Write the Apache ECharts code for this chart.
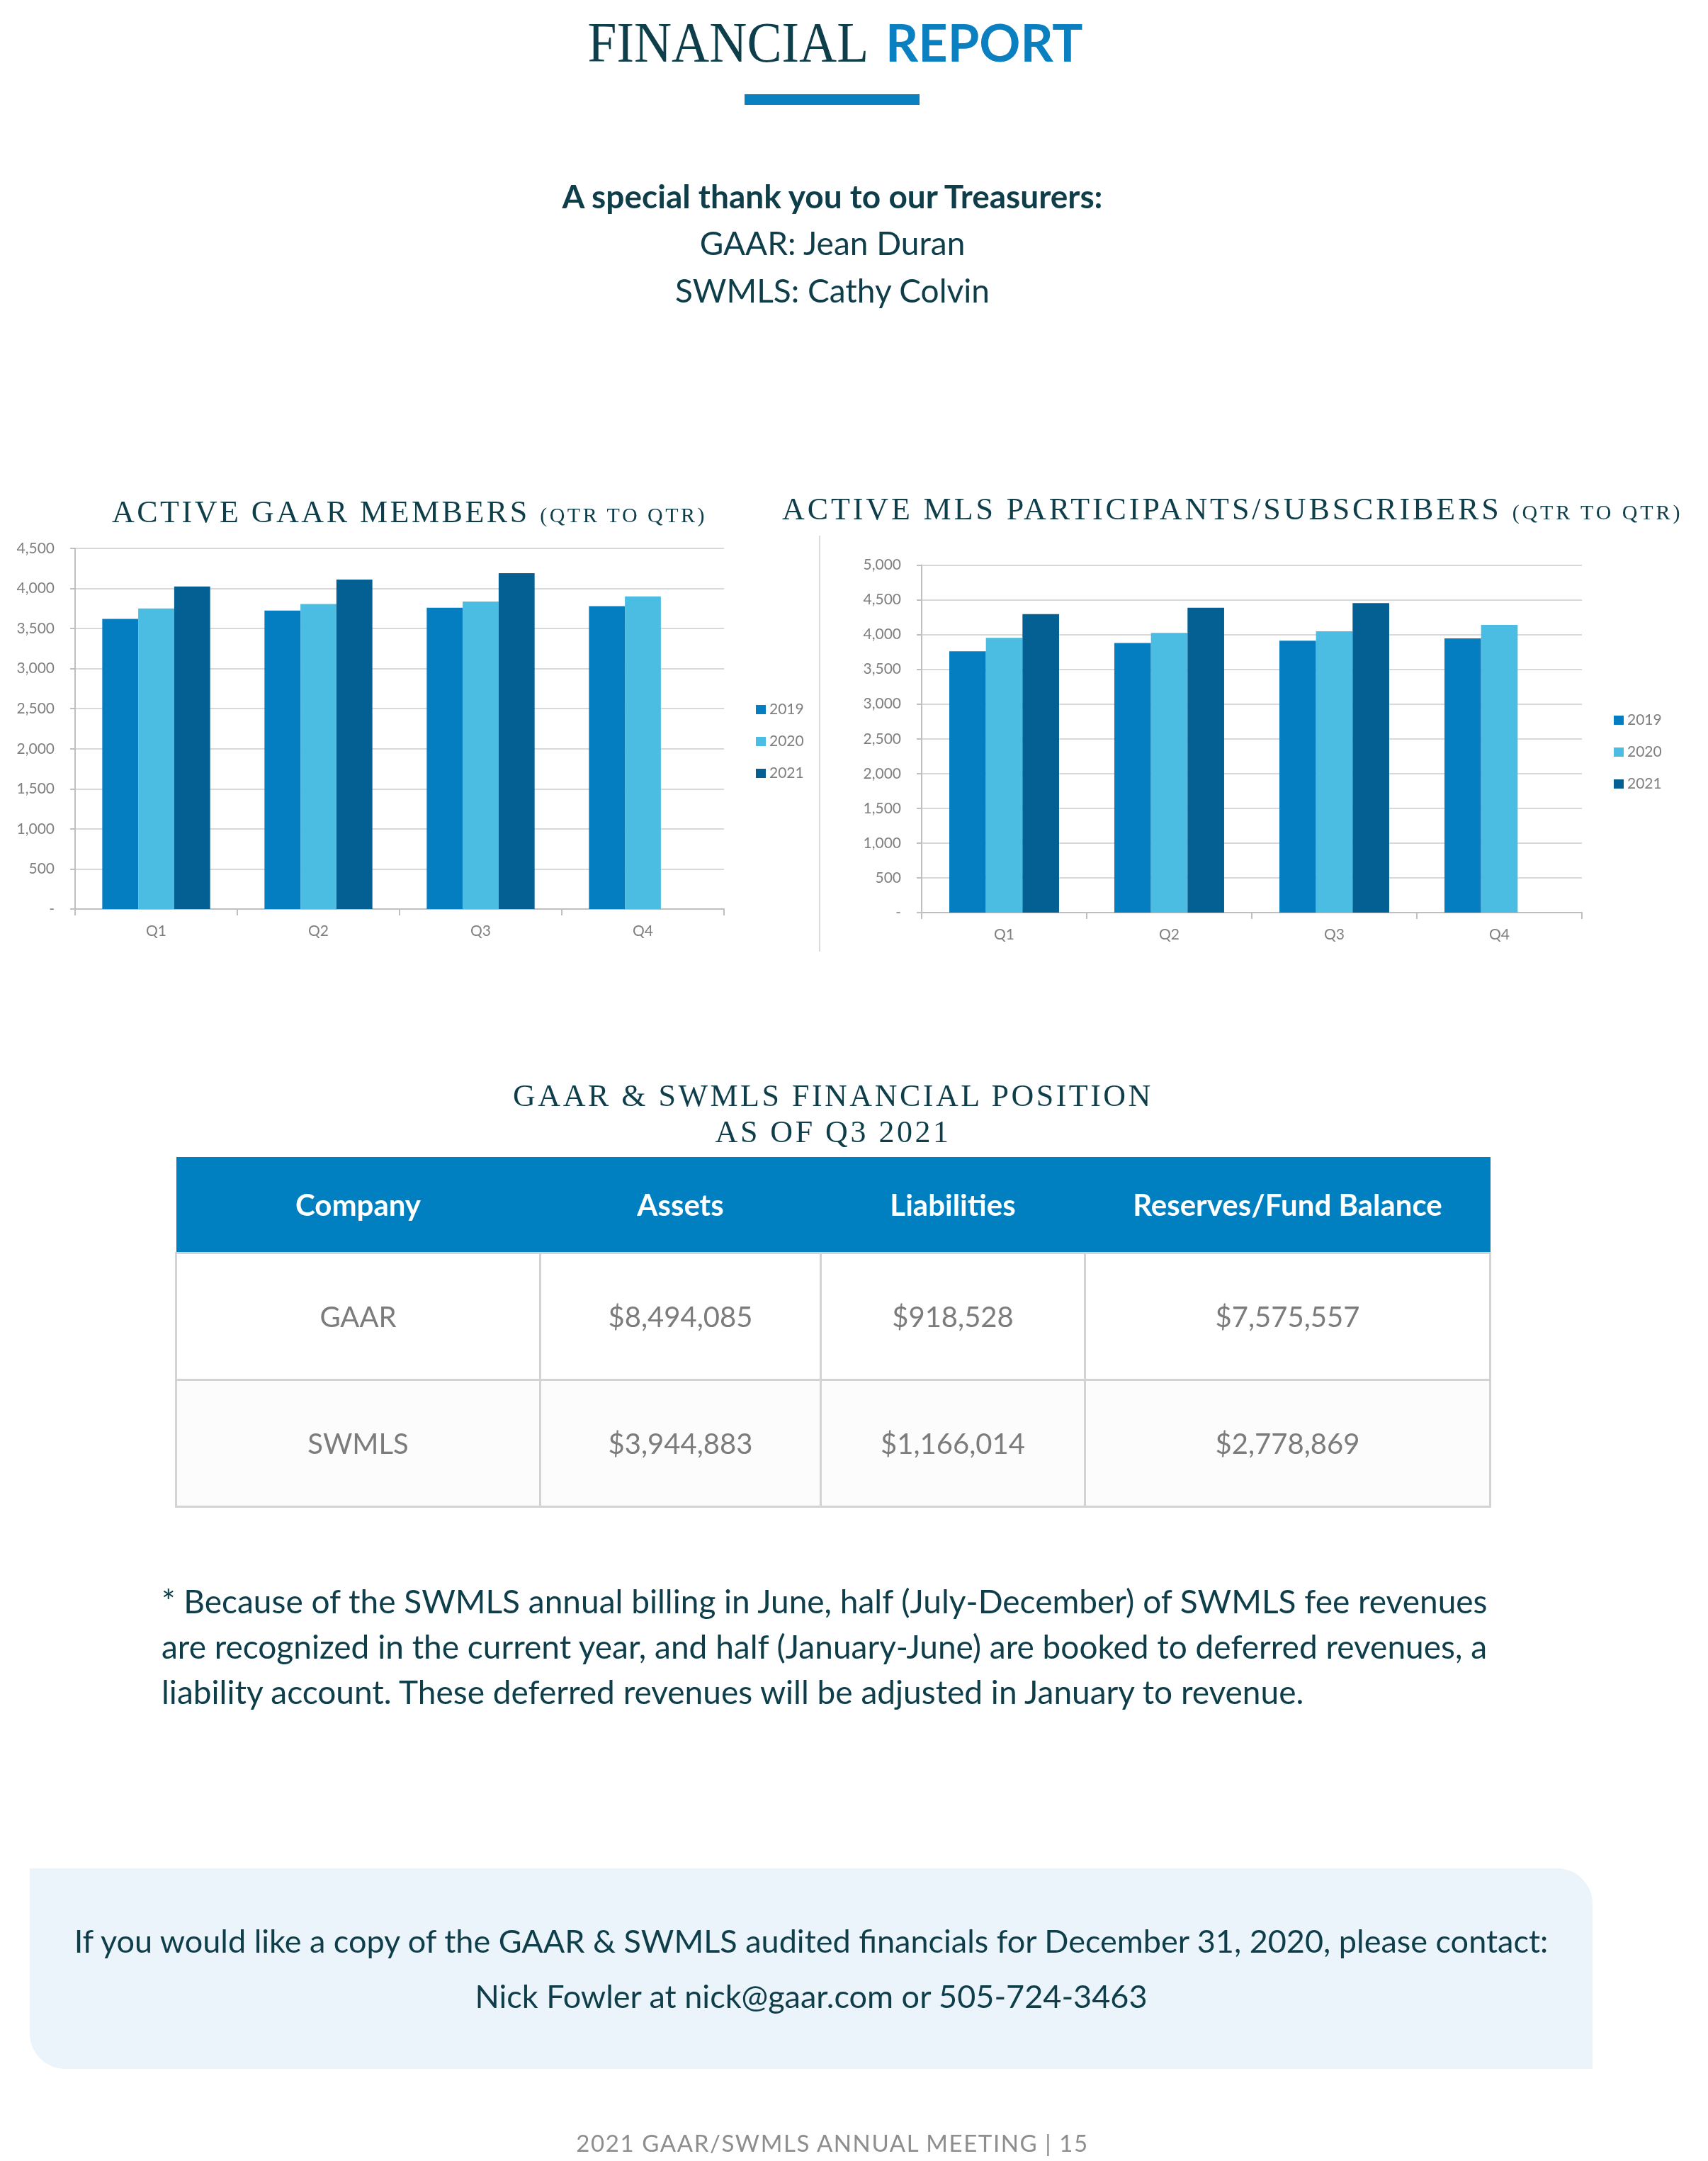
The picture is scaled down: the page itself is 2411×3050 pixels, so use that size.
<!DOCTYPE html>
<html>
<head>
<meta charset="utf-8">
<script src="https://cdn.jsdelivr.net/npm/echarts@6/dist/echarts.min.js"></script>
<style>
  html, body { margin:0; padding:0; background:#ffffff; }
  body { width:2411px; height:3050px; position:relative; overflow:hidden; }
  #chart { position:absolute; left:0; top:0; width:2411px; height:3050px; z-index:0; }
  .t { position:absolute; white-space:nowrap; z-index:1; line-height:1; }
  .lato { font-family: Lato, "Open Sans", sans-serif; }
  .serif { font-family: "Liberation Serif", "DejaVu Serif", serif; }
  .teal { color:#0f3e4b; }
  table.fin { position:absolute; left:247px; top:1633px; width:1855px; border-collapse:collapse; table-layout:fixed; z-index:1;
    font-family: Lato, "Open Sans", sans-serif; }
  table.fin th { background:#0080c0; color:#ffffff; font-weight:700; font-size:42px; height:134px; padding:0; border:none; text-align:center; }
  table.fin td { color:#7c7c7c; font-weight:400; font-size:40px; height:176px; padding:0; border:3px solid #d3d3d3; text-align:center; }
  table.fin tr.r2 td { background:#fcfcfc; height:176px; }
</style>
</head>
<body>
<div id="chart"></div>

<!-- Page header -->
<div class="t serif teal" style="right:1185px; top:20px; font-size:80px; transform:scaleX(0.92); transform-origin:right center;">FINANCIAL</div>
<div class="t lato" style="left:1250px; top:23px; font-size:72px; font-weight:700; color:#0a80c0;">REPORT</div>
<div style="position:absolute; left:1051px; top:133px; width:247px; height:15px; background:#0a80c0;"></div>

<div class="t lato teal" style="left:575px; width:1200px; text-align:center; top:254px; font-size:46px; font-weight:700;">A special thank you to our Treasurers:</div>
<div class="t lato teal" style="left:575px; width:1200px; text-align:center; top:320px; font-size:46px;">GAAR: Jean Duran</div>
<div class="t lato teal" style="left:575px; width:1200px; text-align:center; top:387px; font-size:46px;">SWMLS: Cathy Colvin</div>

<!-- Chart titles -->
<div class="t serif teal" style="left:158px; top:701px; font-size:44px; letter-spacing:3.5px;">ACTIVE GAAR MEMBERS <span style="font-size:30px;">(QTR TO QTR)</span></div>
<div class="t serif teal" style="left:1104px; top:697px; font-size:44px; letter-spacing:3.9px;">ACTIVE MLS PARTICIPANTS/SUBSCRIBERS <span style="font-size:30px;">(QTR TO QTR)</span></div>

<!-- Table title -->
<div class="t serif teal" style="left:576px; width:1200px; text-align:center; top:1525px; font-size:44px; letter-spacing:3.5px;">GAAR &amp; SWMLS FINANCIAL POSITION</div>
<div class="t serif teal" style="left:576px; width:1200px; text-align:center; top:1576px; font-size:44px; letter-spacing:3.5px;">AS OF Q3 2021</div>

<table class="fin">
  <colgroup><col style="width:514px"><col style="width:396px"><col style="width:373px"><col style="width:572px"></colgroup>
  <tr><th>Company</th><th>Assets</th><th>Liabilities</th><th>Reserves/Fund Balance</th></tr>
  <tr><td>GAAR</td><td>$8,494,085</td><td>$918,528</td><td>$7,575,557</td></tr>
  <tr class="r2"><td>SWMLS</td><td>$3,944,883</td><td>$1,166,014</td><td>$2,778,869</td></tr>
</table>

<!-- Footnote -->
<div class="t lato teal" style="left:228px; top:2228px; font-size:46px; line-height:64px;">* Because of the SWMLS annual billing in June, half (July-December) of SWMLS fee revenues<br>are recognized in the current year, and half (January-June) are booked to deferred revenues, a<br>liability account. These deferred revenues will be adjusted in January to revenue.</div>

<!-- Contact box -->
<div style="position:absolute; left:42px; top:2637px; width:2206px; height:283px; background:#ebf4fa; border-radius:0 50px 0 50px; z-index:0;"></div>
<div class="t lato teal" style="left:42px; width:2206px; text-align:center; top:2700px; font-size:45px; line-height:78px;">If you would like a copy of the GAAR &amp; SWMLS audited financials for December 31, 2020, please contact:<br>Nick Fowler at nick@gaar.com or 505-724-3463</div>

<!-- Footer -->
<div class="t lato" style="left:575px; width:1200px; text-align:center; top:3008px; font-size:33px; letter-spacing:1.6px; color:#8e8e8e;">2021 GAAR/SWMLS ANNUAL MEETING | 15</div>

<script>
// ---- Data ----
const quarters = ['Q1', 'Q2', 'Q3', 'Q4'];
const years = ['2019', '2020', '2021'];
const gaar2019 = [3620, 3725, 3760, 3780];
const gaar2020 = [3750, 3805, 3838, 3902];
const gaar2021 = [4025, 4110, 4190, null];
const mls2019 = [3760, 3878, 3913, 3944];
const mls2020 = [3953, 4024, 4046, 4139];
const mls2021 = [4293, 4386, 4452, null];
const gaarTicks = { min: 0, max: 4500, interval: 500 };
const mlsTicks = { min: 0, max: 5000, interval: 500 };
const colors = ['#047ec1', '#4bbce2', '#045f92'];

const chart = echarts.init(document.getElementById('chart'), null, { renderer: 'canvas' });
const FONT = 'Lato, "Open Sans", sans-serif';
const axisGray = '#bfbfbf';
const labelGray = '#7f7f7f';

function fmt(v) { return v === 0 ? '-' : v.toLocaleString('en-US'); }

function xAx(idx) {
  return {
    type: 'category', gridIndex: idx, data: quarters,
    axisLine: { show: true, lineStyle: { color: axisGray, width: 2 } },
    axisTick: { show: true, length: 9, alignWithLabel: false, lineStyle: { color: axisGray, width: 2 } },
    axisLabel: { fontSize: 21, color: labelGray, fontFamily: FONT, margin: 21 }
  };
}
function yAx(idx, t) {
  return {
    type: 'value', gridIndex: idx, min: t.min, max: t.max, interval: t.interval,
    axisLine: { show: true, lineStyle: { color: axisGray, width: 2 } },
    axisTick: { show: true, length: 7, lineStyle: { color: axisGray, width: 2 } },
    splitLine: { show: true, lineStyle: { color: '#d9d9d9', width: 2 } },
    axisLabel: { fontSize: 21, color: labelGray, fontFamily: FONT, margin: 29, formatter: fmt }
  };
}
function bar(name, data, idx, color) {
  return {
    type: 'bar', name: name, data: data, xAxisIndex: idx, yAxisIndex: idx,
    barGap: '0%', barCategoryGap: '33.5%',
    itemStyle: { color: color }, emphasis: { disabled: true }, animation: false
  };
}

const legendBase = {
  orient: 'vertical', icon: 'rect', itemWidth: 14, itemHeight: 13, itemGap: 24,
  textStyle: { fontSize: 21, color: labelGray, fontFamily: FONT, lineHeight: 21 },
  data: years, selectedMode: false
};

chart.setOption({
  animation: false,
  grid: [
    { left: 106, top: 774, width: 916, height: 509 },
    { left: 1301, top: 797.5, width: 932, height: 490.5 }
  ],
  xAxis: [xAx(0), xAx(1)],
  yAxis: [yAx(0, gaarTicks), yAx(1, mlsTicks)],
  legend: [
    Object.assign({}, legendBase, { left: 1062, top: 986 }),
    Object.assign({}, legendBase, { left: 2273, top: 1001 })
  ],
  series: [
    bar(years[0], gaar2019, 0, colors[0]),
    bar(years[1], gaar2020, 0, colors[1]),
    bar(years[2], gaar2021, 0, colors[2]),
    bar(years[0], mls2019, 1, colors[0]),
    bar(years[1], mls2020, 1, colors[1]),
    bar(years[2], mls2021, 1, colors[2])
  ],
  graphic: [
    { type: 'line', shape: { x1: 1157, y1: 756, x2: 1157, y2: 1343 }, style: { stroke: '#cfcfcf', lineWidth: 1.5 }, silent: true }
  ]
});
</script>
</body>
</html>
